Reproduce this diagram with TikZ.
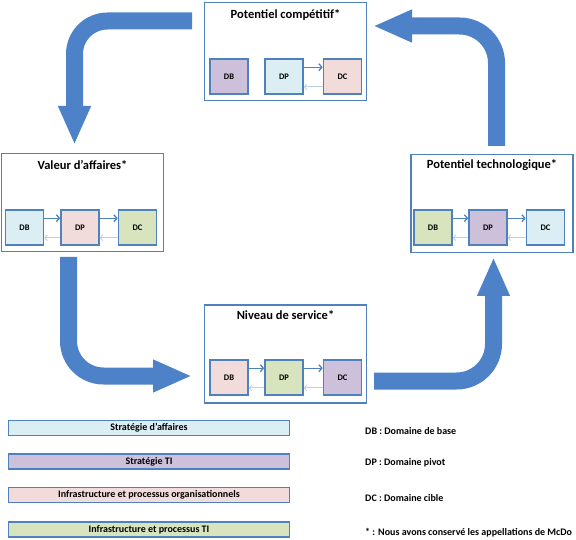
\documentclass[tikz,border=0pt]{standalone}
\usepackage{fontspec}
\setmainfont{Carlito}
\usetikzlibrary{arrows.meta,calc}
\definecolor{edgeB}{RGB}{79,129,189}
\definecolor{flowB}{RGB}{78,130,200}
\definecolor{backB}{RGB}{190,208,232}
\definecolor{fillAff}{RGB}{219,238,244}
\definecolor{fillTI}{RGB}{204,192,218}
\definecolor{fillOrg}{RGB}{242,220,219}
\definecolor{fillInf}{RGB}{215,228,189}

\begin{document}
\begin{tikzpicture}[x=1pt,y=1pt,
  panel/.style={draw=edgeB, line width=1.6pt, minimum width=162pt, minimum height=98pt, inner sep=0pt},
  ptitle/.style={font=\bfseries\fontsize{12.5}{14}\selectfont},
  dom/.style={draw=edgeB, line width=1.6pt, minimum width=38pt, minimum height=35pt, inner sep=0pt, font=\bfseries\fontsize{8.5}{10}\selectfont},
  fwd/.style={draw=edgeB, line width=1.3pt, -{Straight Barb[length=3pt,width=7pt]}},
  bwd/.style={draw=backB, line width=0.9pt, -{Straight Barb[length=2.5pt,width=6pt]}},
  bigarrow/.style={draw=flowB, line width=17pt, rounded corners=#1, -{Triangle[length=39pt,width=30pt]}},
  bar/.style={draw=edgeB, line width=1.6pt, minimum width=281pt, minimum height=15pt, inner sep=0pt, font=\bfseries\fontsize{10}{11}\selectfont},
  note/.style={anchor=west, inner sep=0pt, font=\bfseries\fontsize{10}{11}\selectfont}]
  \useasboundingbox (0,0) rectangle (576,539);

  % Big cycle arrows
  \coordinate (a1s) at (192,518);   \coordinate (a1c) at (74.5,518);  \coordinate (a1e) at (74.5,394);
  \coordinate (a2s) at (496.5,393); \coordinate (a2c) at (496.5,513); \coordinate (a2e) at (373,513);
  \coordinate (a3s) at (68.5,282);  \coordinate (a3c) at (68.5,163);  \coordinate (a3e) at (192,163);
  \coordinate (a4s) at (374,158);   \coordinate (a4c) at (493.5,158); \coordinate (a4e) at (493.5,282);
  \draw[bigarrow=33pt] (a1s) -- (a1c) -- (a1e);
  \draw[bigarrow=37pt] (a2s) -- (a2c) -- (a2e);
  \draw[bigarrow=35pt] (a3s) -- (a3c) -- (a3e);
  \draw[bigarrow=37pt] (a4s) -- (a4c) -- (a4e);

  % Potentiel competitif (top)
  \node[panel] (pc) at (285.5,487.5) {};
  \node[ptitle] (pcT) at (285.5,524) {Potentiel compétitif*};
  \node[dom, fill=fillTI]  (pcDB) at (229,462.5) {DB};
  \node[dom, fill=fillAff] (pcDP) at (284,462.5) {DP};
  \node[dom, fill=fillOrg] (pcDC) at (342.5,462.5) {DC};
  \draw[fwd] ([yshift=-9pt]pcDP.north east) -- ([yshift=-9pt]pcDC.north west);
  \draw[bwd] ([yshift=8pt]pcDC.south west) -- ([yshift=8pt]pcDP.south east);

  % Valeur d'affaires (left)
  \node[panel] (va) at (82.5,336.5) {};
  \node[ptitle] (vaT) at (82.5,374) {Valeur d’affaires*};
  \node[dom, fill=fillAff] (vaDB) at (24.5,311.5) {DB};
  \node[dom, fill=fillOrg] (vaDP) at (80,311.5) {DP};
  \node[dom, fill=fillInf] (vaDC) at (137.5,311.5) {DC};

  % Potentiel technologique (right)
  \node[panel] (pt) at (492,335.5) {};
  \node[ptitle] (ptT) at (492,374) {Potentiel technologique*};
  \node[dom, fill=fillInf] (ptDB) at (433,311.5) {DB};
  \node[dom, fill=fillTI]  (ptDP) at (488,311.5) {DP};
  \node[dom, fill=fillAff] (ptDC) at (545.5,311.5) {DC};

  % Niveau de service (bottom)
  \node[panel] (ns) at (285.5,185) {};
  \node[ptitle] (nsT) at (285.5,224) {Niveau de service*};
  \node[dom, fill=fillOrg] (nsDB) at (229,161.5) {DB};
  \node[dom, fill=fillInf] (nsDP) at (284,161.5) {DP};
  \node[dom, fill=fillTI]  (nsDC) at (342.5,161.5) {DC};

  % DB -> DP -> DC and back, same in three panels
  \foreach \p in {va,pt,ns} {
    \draw[fwd] ([yshift=-9pt]\p DB.north east) -- ([yshift=-9pt]\p DP.north west);
    \draw[fwd] ([yshift=-9pt]\p DP.north east) -- ([yshift=-9pt]\p DC.north west);
    \draw[bwd] ([yshift=8pt]\p DP.south west) -- ([yshift=8pt]\p DB.south east);
    \draw[bwd] ([yshift=8pt]\p DC.south west) -- ([yshift=8pt]\p DP.south east);
  }

  % Legend
  \node[bar, fill=fillAff] (lgAff) at (149,111) {Stratégie d’affaires};
  \node[bar, fill=fillTI]  (lgTI)  at (149,77.5) {Stratégie TI};
  \node[bar, fill=fillOrg] (lgOrg) at (149,44) {Infrastructure et processus organisationnels};
  \node[bar, fill=fillInf] (lgInf) at (149,9.5) {Infrastructure et processus TI};
  \node[note] (nDB) at (365,108) {DB : Domaine de base};
  \node[note] (nDP) at (365,76) {DP : Domaine pivot};
  \node[note] (nDC) at (365,41) {DC : Domaine cible};
  \node[note] (nSt) at (365,6) {* : Nous avons conservé les appellations de McDo};
\end{tikzpicture}
\end{document}
